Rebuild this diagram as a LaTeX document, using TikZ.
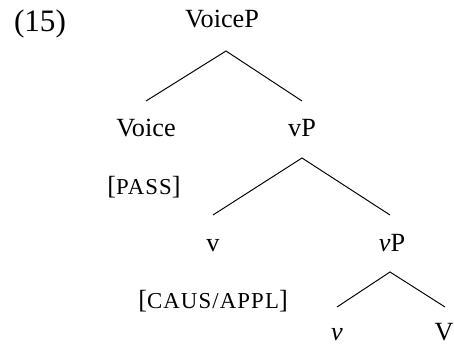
\documentclass[tikz,border=0pt]{standalone}
\usepackage{fontspec}
\setmainfont{Liberation Serif}
\newcommand\fakesc[1]{{\fontsize{10.6}{12}\selectfont\addfontfeature{LetterSpace=5}#1}}
\begin{document}
\begin{tikzpicture}[x=0.465pt,y=-0.465pt,
  lab/.style={anchor=base,inner sep=0pt,outer sep=0pt,font=\fontsize{12.2}{14}\selectfont},
  branch/.style={line width=0.45pt}]
\useasboundingbox (0,0) rectangle (454,345);
\node[lab,font=\fontsize{14.5}{16}\selectfont] (ex) at (40,32) {(15)};
\node[lab] (VoiceP) at (222,28) {VoiceP};
\node[lab] (Voice) at (146,137) {Voice};
\node[lab] (vP) at (302,137) {vP};
\node[lab] (pass) at (144,195) {[\fakesc{PASS}]};
\node[lab] (v) at (213,252) {v};
\node[lab] (vP2) at (392,252) {\textit{v}P};
\node[lab] (caus) at (213,309) {[\fakesc{CAUS/APPL}]};
\node[lab] (v2) at (337,341) {\textit{v}};
\node[lab] (V) at (444,341) {V};
\coordinate (t1) at (226,51);
\coordinate (b1l) at (146,101);
\coordinate (b1r) at (302,101);
\coordinate (t2) at (302,158);
\coordinate (b2l) at (213,215);
\coordinate (b2r) at (390,215);
\coordinate (t3) at (390,272);
\coordinate (b3l) at (337,307);
\coordinate (b3r) at (445,307);
\draw[branch] (b1l) -- (t1) -- (b1r);
\draw[branch] (b2l) -- (t2) -- (b2r);
\draw[branch] (b3l) -- (t3) -- (b3r);
\end{tikzpicture}
\end{document}
